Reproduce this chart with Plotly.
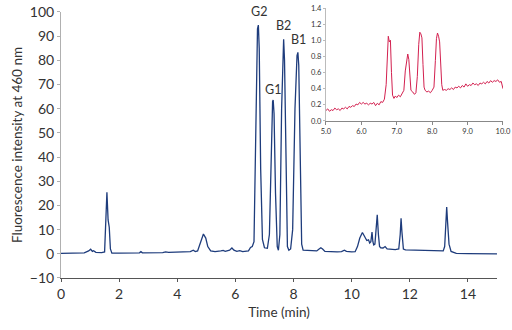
import plotly.graph_objects as go

# Main chromatogram (time in min, fluorescence intensity)
main_time = [0.0, 0.5, 0.8, 0.95, 1.02, 1.08, 1.12, 1.2, 1.4, 1.5, 1.55, 1.58, 1.62, 1.66, 1.70, 1.75,
             2.0, 2.7, 2.75, 2.8, 3.5, 3.6, 3.7, 4.0, 4.45, 4.55, 4.62, 4.7, 4.78, 4.9, 4.98, 5.05,
             5.15, 5.3, 5.5, 5.58, 5.65, 5.8, 5.88, 5.95, 6.05, 6.15, 6.25, 6.45, 6.52, 6.58, 6.64,
             6.70, 6.76, 6.79, 6.82, 6.87, 6.93, 7.0, 7.10, 7.17, 7.23, 7.28, 7.30, 7.33, 7.38, 7.44,
             7.48, 7.53, 7.59, 7.64, 7.66, 7.69, 7.74, 7.79, 7.84, 7.90, 7.97, 8.05, 8.12, 8.15, 8.18,
             8.23, 8.28, 8.33, 8.5, 8.8, 8.88, 8.94, 9.0, 9.08, 9.5, 9.65, 9.75, 9.82, 10.0, 10.12,
             10.2, 10.28, 10.37, 10.45, 10.52, 10.58, 10.62, 10.66, 10.70, 10.73, 10.76, 10.80, 10.84,
             10.88, 10.92, 10.96, 11.0, 11.08, 11.15, 11.22, 11.5, 11.62, 11.67, 11.70, 11.73, 11.78,
             11.85, 12.5, 13.15, 13.20, 13.24, 13.27, 13.30, 13.35, 13.42, 13.6, 14.0, 14.5, 15.0]
main_signal = [0.2, 0.3, 0.4, 1.2, 1.9, 1.0, 1.3, 0.6, 0.5, 0.8, 15, 25.5, 14, 11, 2, 0.3,
               0.3, 0.4, 0.9, 0.4, 0.5, 0.8, 0.6, 0.7, 0.9, 1.5, 0.9, 1.2, 4, 8.2, 6.5, 3,
               1.2, 0.9, 1.2, 1.4, 1.0, 1.5, 2.4, 1.5, 1.0, 1.3, 0.9, 1.2, 2.6, 3.0, 5,
               50, 93, 94.6, 85, 35, 6, 2.5, 2.3, 8, 45, 63, 63.6, 58, 25, 3,
               1.5, 8, 60, 88, 88.7, 80, 30, 3, 1.5, 2, 10, 60, 82, 83.3, 78,
               35, 4, 1.5, 1.3, 1.2, 2.0, 2.5, 2.0, 1.0, 0.8, 0.9, 1.5, 1.0, 0.8, 0.9,
               3, 6.5, 8.8, 7.2, 5.5, 5.8, 4.5, 5, 9, 5, 3.7, 4, 9,
               16.1, 8, 3, 2.5, 2.4, 3, 2.0, 1.7, 2.0, 8, 14.7, 9, 2,
               1.6, 1.4, 1.2, 3, 15, 19.3, 13, 4, 1.0, 0.2, 0.1, 0.0, 0.0]

# Inset (zoom on 5-10 min)
inset_time = [5.00, 5.05, 5.10, 5.15, 5.20, 5.25, 5.30, 5.35, 5.40, 5.45, 5.50, 5.55, 5.60, 5.65,
              5.70, 5.75, 5.80, 5.85, 5.90, 5.95, 6.00, 6.05, 6.10, 6.15, 6.20, 6.25, 6.30, 6.35,
              6.40, 6.45, 6.50, 6.55, 6.60, 6.65, 6.70, 6.73, 6.76, 6.79, 6.82, 6.85, 6.88, 6.92,
              6.96, 7.00, 7.05, 7.10, 7.15, 7.20, 7.24, 7.28, 7.31, 7.34, 7.37, 7.40, 7.45, 7.50,
              7.54, 7.58, 7.62, 7.65, 7.68, 7.71, 7.74, 7.77, 7.80, 7.85, 7.90, 7.95, 8.00, 8.05,
              8.09, 8.12, 8.15, 8.18, 8.21, 8.24, 8.27, 8.30, 8.35, 8.40, 8.45, 8.50, 8.55, 8.60,
              8.65, 8.70, 8.75, 8.80, 8.85, 8.90, 8.95, 9.00, 9.05, 9.10, 9.15, 9.20, 9.25, 9.30,
              9.35, 9.40, 9.45, 9.50, 9.55, 9.60, 9.65, 9.70, 9.75, 9.80, 9.85, 9.90, 9.95, 10.00]
inset_signal = [0.13, 0.15, 0.12, 0.14, 0.13, 0.16, 0.14, 0.15, 0.13, 0.16, 0.15, 0.17, 0.15, 0.18,
                0.17, 0.19, 0.18, 0.21, 0.20, 0.23, 0.21, 0.23, 0.21, 0.22, 0.20, 0.22, 0.21, 0.23,
                0.19, 0.22, 0.20, 0.24, 0.23, 0.27, 0.45, 0.85, 1.05, 0.98, 1.00, 0.60, 0.32, 0.28,
                0.31, 0.29, 0.32, 0.30, 0.34, 0.38, 0.62, 0.78, 0.83, 0.76, 0.55, 0.38, 0.36, 0.33,
                0.35, 0.55, 0.95, 1.10, 1.08, 1.03, 0.70, 0.42, 0.38, 0.36, 0.37, 0.35, 0.38, 0.42,
                0.75, 1.02, 1.09, 1.05, 0.98, 0.70, 0.45, 0.38, 0.39, 0.38, 0.40, 0.39, 0.41, 0.39,
                0.42, 0.41, 0.43, 0.41, 0.44, 0.42, 0.46, 0.43, 0.45, 0.44, 0.47, 0.45, 0.46, 0.44,
                0.47, 0.46, 0.48, 0.46, 0.49, 0.47, 0.50, 0.48, 0.50, 0.49, 0.51, 0.48, 0.49, 0.40]

peak_labels = ["G2", "G1", "B2", "B1"]
peak_label_x = [6.81, 7.28, 7.67, 8.16]
peak_label_y = [94.6, 63.6, 88.7, 83.3]
label_shift = [14, 11, 14, 13]

FONT = "Lato"
TXT = "#333333"

fig = go.Figure()
fig.add_trace(go.Scatter(x=main_time, y=main_signal, mode="lines",
                         line=dict(color="#1e3c7c", width=1.3), showlegend=False,
                         xaxis="x", yaxis="y"))
fig.add_trace(go.Scatter(x=inset_time, y=inset_signal, mode="lines",
                         line=dict(color="#d3204f", width=1), showlegend=False,
                         xaxis="x2", yaxis="y2"))

for lab, xx, yy, sh in zip(peak_labels, peak_label_x, peak_label_y, label_shift):
    fig.add_annotation(x=xx, y=yy, xref="x", yref="y", text=lab, showarrow=False,
                       font=dict(family=FONT, size=12.5, color=TXT),
                       yanchor="middle", yshift=sh)

fig.update_layout(
    width=512, height=330,
    margin=dict(l=61, r=9, t=8, b=52),
    plot_bgcolor="white", paper_bgcolor="white",
    font=dict(family=FONT, color=TXT),
    xaxis=dict(domain=[0, 0.9864], range=[0, 15], dtick=2, tick0=0, automargin=False,
               showgrid=False, zeroline=False, showline=True, linecolor="#555555",
               linewidth=1, ticks="outside", ticklen=3, tickcolor="#555555",
               tickfont=dict(size=14, color=TXT), anchor="y",
               title=dict(text="Time (min)", font=dict(size=13.5, color=TXT), standoff=6)),
    yaxis=dict(domain=[0, 0.9852], range=[-10, 100], dtick=10, tick0=0, automargin=False,
               showgrid=False, zeroline=False, showline=True, linecolor="#b0b0b0",
               linewidth=1, ticks="outside", ticklen=3, tickcolor="#b0b0b0",
               tickfont=dict(size=14, color=TXT), anchor="x",
               title=dict(text="Fluorescence intensity at 460 nm",
                          font=dict(size=13.5, color=TXT), standoff=4)),
    xaxis2=dict(domain=[0.5995, 1.0], range=[5, 10], dtick=1, tick0=5, tickformat=".1f",
                automargin=False,
                showgrid=False, zeroline=False, showline=True, linecolor="#888888",
                linewidth=1, ticks="outside", ticklen=3, tickcolor="#888888",
                tickfont=dict(size=7.5, color=TXT), anchor="y2"),
    yaxis2=dict(domain=[0.5815, 1.0], range=[0, 1.4], dtick=0.2, tick0=0, tickformat=".1f",
                automargin=False,
                showgrid=False, zeroline=False, showline=True, linecolor="#bbbbbb",
                linewidth=1, ticks="outside", ticklen=2, tickcolor="#bbbbbb",
                tickfont=dict(size=7.5, color=TXT), anchor="x2"),
)

fig.write_html("out.html")
